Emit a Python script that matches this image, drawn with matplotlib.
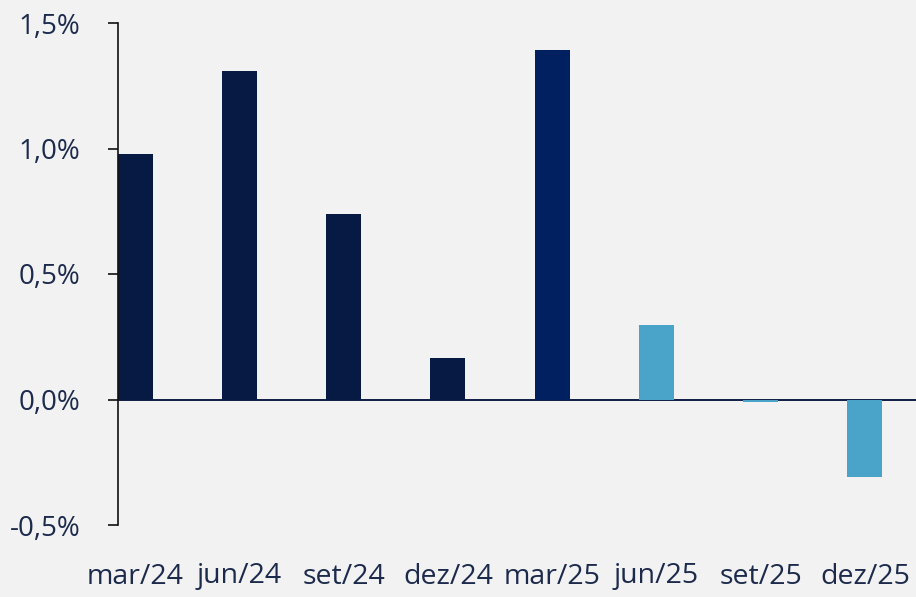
import numpy as np
import matplotlib.pyplot as plt
from matplotlib.ticker import FuncFormatter

# data
categories = ['mar/24', 'jun/24', 'set/24', 'dez/24', 'mar/25', 'jun/25', 'set/25', 'dez/25']
values = [0.98, 1.31, 0.74, 0.167, 1.394, 0.295, -0.008, -0.307]
bar_colors = ['#061a44', '#061a44', '#061a44', '#061a44', '#002060', '#4aa3c8', '#4aa3c8', '#4aa3c8']

bg = '#f2f2f2'
txt = '#1c2a4c'

plt.rcParams['font.family'] = ['Open Sans', 'DejaVu Sans']

fig = plt.figure(figsize=(9.16, 5.97), dpi=100, facecolor=bg)
ax = fig.add_axes([118 / 916, 72 / 597, 1 - 118 / 916, (525 - 23) / 597], facecolor=bg)

x = np.arange(len(categories))
ax.bar(x, values, width=0.335, color=bar_colors, zorder=2)
ax.axhline(0, color='#0e1d45', lw=1.4, zorder=1)

ax.set_xlim(-0.165, 7.49)
ax.set_ylim(-0.5, 1.5)
ax.set_yticks([-0.5, 0.0, 0.5, 1.0, 1.5])
ax.yaxis.set_major_formatter(FuncFormatter(lambda v, p: ('%.1f%%' % v).replace('.', ',')))

ax.set_xticks(x)
ax.set_xticklabels(categories)
ax.tick_params(axis='x', length=0, pad=27, labelsize=20.5, labelcolor=txt)
ax.tick_params(axis='y', length=7, width=1.2, color='#111111', pad=20, labelsize=20, labelcolor=txt)

for s in ['top', 'right', 'bottom']:
    ax.spines[s].set_visible(False)
ax.spines['left'].set_color('#111111')
ax.spines['left'].set_linewidth(1.2)

fig.savefig('out.png', dpi=100, facecolor=bg)
